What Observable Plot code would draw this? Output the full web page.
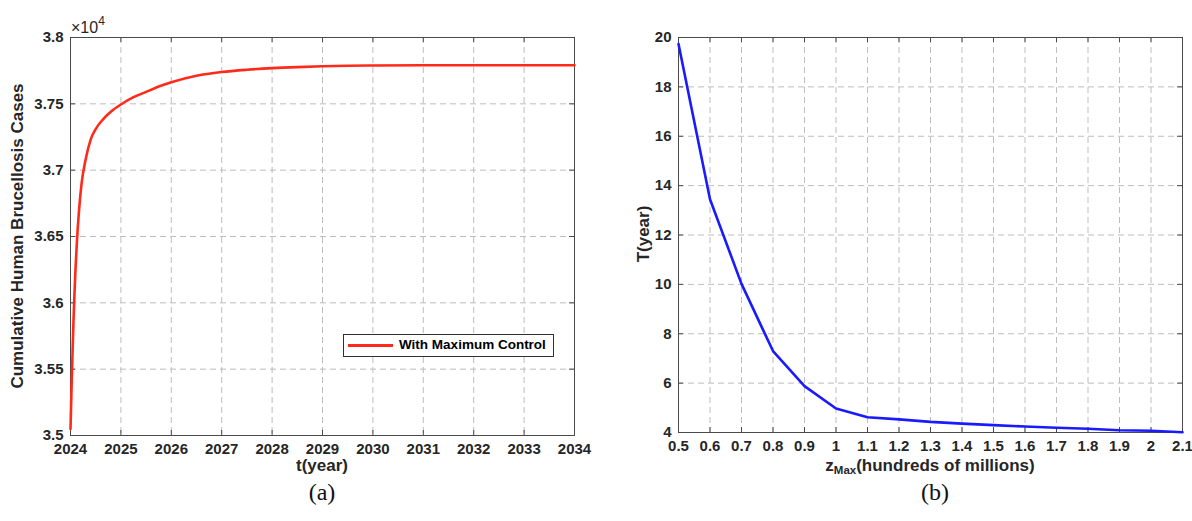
<!DOCTYPE html>
<html>
<head>
<meta charset="utf-8">
<script src="https://cdn.jsdelivr.net/npm/d3@7"></script>
<script src="https://cdn.jsdelivr.net/npm/@observablehq/plot@0.6"></script>
<style>
  html, body { margin: 0; padding: 0; background: #fff; }
  #page { position: relative; width: 1192px; height: 521px; overflow: hidden; background: #fff;
          font-family: "Liberation Sans", Arial, Helvetica, sans-serif; color: #262626; }
  .abs { position: absolute; white-space: nowrap; }
  .axlab { font-weight: bold; font-size: 17px; color: #262626; }
  .cap { font-family: "Liberation Serif", "Times New Roman", serif; font-size: 24px; color: #111; }
</style>
</head>
<body>
<div id="page">
  <div id="left" class="abs" style="left:0;top:0"></div>
  <div id="right" class="abs" style="left:596px;top:0"></div>

  <div class="abs" style="left:71px;top:16px;font-size:16px;color:#262626">×10<sup style="font-size:12px;position:relative;top:-2px">4</sup></div>

  <div class="abs axlab" style="left:18px;top:236px;transform:translate(-50%,-50%) rotate(-90deg)">Cumulative Human Brucellosis Cases</div>
  <div class="abs axlab" style="left:322px;top:466px;transform:translate(-50%,-50%)">t(year)</div>
  <div class="abs cap" style="left:322px;top:492px;transform:translate(-50%,-50%)">(a)</div>

  <div class="abs" style="left:343px;top:334px;width:209px;height:21px;border:1px solid #303030;background:#fff;"></div>
  <div class="abs" style="left:348px;top:344px;width:45px;height:2.5px;background:#ff2a1a;"></div>
  <div class="abs" style="left:399px;top:337px;font-weight:bold;font-size:13.5px;color:#000">With Maximum Control</div>

  <div class="abs axlab" style="left:644px;top:234px;transform:translate(-50%,-50%) rotate(-90deg)">T(year)</div>
  <div class="abs axlab" style="left:930px;top:466px;transform:translate(-50%,-50%)">z<sub style="font-size:11.5px;position:relative;top:3px;vertical-align:baseline">Max</sub>(hundreds of millions)</div>
  <div class="abs cap" style="left:935px;top:492px;transform:translate(-50%,-50%)">(b)</div>
</div>
<script>
// ---- Panel (a) data ----
const tYear = [2024.00, 2024.02, 2024.04, 2024.06, 2024.08, 2024.10, 2024.13, 2024.17, 2024.22, 2024.30,
               2024.40, 2024.50, 2024.65, 2024.80, 2025.00, 2025.25, 2025.50, 2025.75, 2026.00, 2026.50,
               2027.00, 2027.50, 2028.00, 2028.50, 2029.00, 2029.50, 2030.00, 2031.00, 2032.00, 2033.00, 2034.00];
const cumulativeCases = [35050, 35350, 35620, 35870, 36080, 36260, 36480, 36700, 36900, 37080,
                         37230, 37310, 37385, 37440, 37495, 37550, 37590, 37630, 37663, 37712,
                         37740, 37757, 37769, 37777, 37783, 37787, 37789, 37791, 37791, 37791, 37791];
const aXTicks = [2024, 2025, 2026, 2027, 2028, 2029, 2030, 2031, 2032, 2033, 2034];
const aYTicks = [35000, 35500, 36000, 36500, 37000, 37500, 38000];
const aYTickLabels = ["3.5", "3.55", "3.6", "3.65", "3.7", "3.75", "3.8"];

// ---- Panel (b) data ----
const zMax = [0.5, 0.6, 0.7, 0.8, 0.9, 1.0, 1.1, 1.2, 1.3, 1.4, 1.5, 1.6, 1.7, 1.8, 1.9, 2.0, 2.1];
const Tyear = [19.74, 13.45, 10.02, 7.30, 5.88, 4.97, 4.62, 4.53, 4.43, 4.36, 4.30, 4.24, 4.19, 4.15, 4.09, 4.07, 4.01];
const bXTicks = [0.5, 0.6, 0.7, 0.8, 0.9, 1, 1.1, 1.2, 1.3, 1.4, 1.5, 1.6, 1.7, 1.8, 1.9, 2, 2.1];
const bYTicks = [4, 6, 8, 10, 12, 14, 16, 18, 20];

const gridStyle = {stroke: "#bdbdbd", strokeOpacity: 1, strokeWidth: 1, strokeDasharray: "6,4"};
const axisColor = "#4a4a4a";

function panel({data, x, y, xDomain, yDomain, xTicks, yTicks, xFormat, yFormat, color, curve, width, height, m}) {
  const plotW = width - m.left - m.right;
  const plotH = height - m.top - m.bottom;
  const tk = 5;
  const dy = (yDomain[1] - yDomain[0]) * tk / plotH;
  const dx = (xDomain[1] - xDomain[0]) * tk / plotW;
  return Plot.plot({
    width, height,
    marginTop: m.top, marginBottom: m.bottom, marginLeft: m.left, marginRight: m.right,
    style: {fontFamily: '"Liberation Sans", Arial, Helvetica, sans-serif', fontSize: "15px", fontWeight: "bold", color: "#262626", background: "transparent"},
    x: {domain: xDomain, label: null},
    y: {domain: yDomain, label: null},
    marks: [
      Plot.gridX(xTicks, gridStyle),
      Plot.gridY(yTicks, gridStyle),
      Plot.axisX(xTicks, {tickSize: 0, tickPadding: 8, label: null, tickFormat: xFormat}),
      Plot.axisY(yTicks, {tickSize: 0, tickPadding: 7, label: null, tickFormat: yFormat}),
      Plot.ruleX(xTicks, {x: d => d, y1: yDomain[0], y2: yDomain[0] + dy, stroke: axisColor}),
      Plot.ruleX(xTicks, {x: d => d, y1: yDomain[1], y2: yDomain[1] - dy, stroke: axisColor}),
      Plot.ruleY(yTicks, {y: d => d, x1: xDomain[0], x2: xDomain[0] + dx, stroke: axisColor}),
      Plot.ruleY(yTicks, {y: d => d, x1: xDomain[1], x2: xDomain[1] - dx, stroke: axisColor}),
      Plot.frame({stroke: axisColor, strokeWidth: 1}),
      Plot.line(data, {x, y, stroke: color, strokeWidth: 2.6, curve})
    ]
  });
}

const aData = tYear.map((t, i) => ({t, c: cumulativeCases[i]}));
const bData = zMax.map((z, i) => ({z, T: Tyear[i]}));

document.getElementById("left").append(panel({
  data: aData, x: "t", y: "c",
  xDomain: [2024, 2034], yDomain: [35000, 38000],
  xTicks: aXTicks, yTicks: aYTicks,
  xFormat: (d) => String(d),
  yFormat: (d) => aYTickLabels[aYTicks.indexOf(d)],
  color: "#ff2a1a", curve: "monotone-x",
  width: 596, height: 480, m: {top: 37, bottom: 45, left: 70, right: 22}
}));

document.getElementById("right").append(panel({
  data: bData, x: "z", y: "T",
  xDomain: [0.5, 2.1], yDomain: [4, 20],
  xTicks: bXTicks, yTicks: bYTicks,
  xFormat: (d) => String(d),
  yFormat: (d) => String(d),
  color: "#1a1aff", curve: "linear",
  width: 596, height: 480, m: {top: 37, bottom: 48, left: 82, right: 10}
}));
</script>
</body>
</html>
